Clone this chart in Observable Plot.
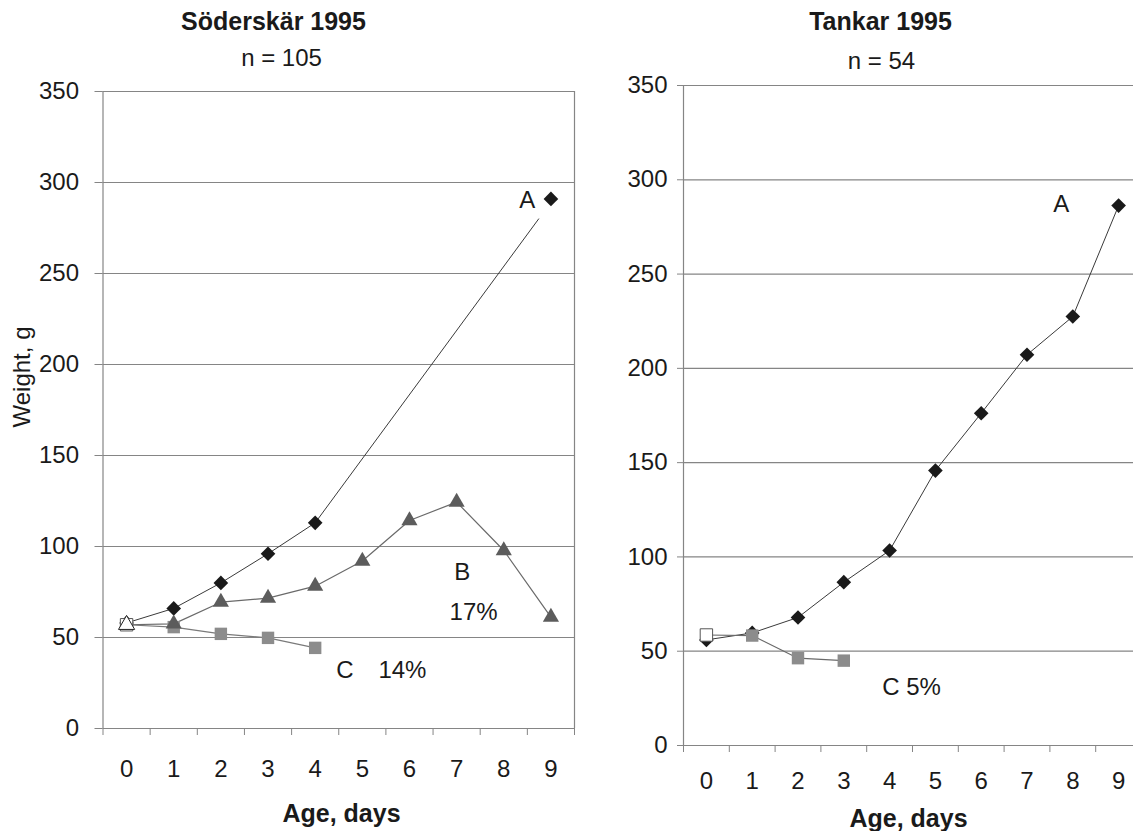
<!DOCTYPE html>
<html><head><meta charset="utf-8">
<script src="https://cdn.jsdelivr.net/npm/d3@7"></script>
<script src="https://cdn.jsdelivr.net/npm/@observablehq/plot@0.6"></script>
<style>
html,body{margin:0;padding:0;background:#fff;overflow:hidden;width:1133px;height:831px;}
#wrap{position:relative;width:1133px;height:831px;overflow:hidden;background:#fff;}
#left,#right{position:absolute;top:0;}
#left{left:0;width:580px;} #right{left:580px;width:567px;}
svg{max-width:none !important;}
</style></head><body><div id="wrap"><div id="left"></div><div id="right"></div></div>
<script>
// ---- shared axis values ----
const ages = [0, 1, 2, 3, 4, 5, 6, 7, 8, 9];
const yTicks = [0, 50, 100, 150, 200, 250, 300, 350];

// ---- Söderskär 1995 (n = 105) ----
const sodTitle = "Söderskär 1995";
const sodSubtitle = "n = 105";
const sodA_ages = [0, 1, 2, 3, 4, 9];
const sodA_weights = [58, 66, 80, 96, 113, 291];
const sodA_lineAges = [0, 1, 2, 3, 4, 8.74];
const sodA_lineWeights = [58, 66, 80, 96, 113, 280];
const sodB_ages = [0, 1, 2, 3, 4, 5, 6, 7, 8, 9];
const sodB_weights = [57, 57.5, 69.4, 71.6, 78.2, 92, 114.3, 124.4, 97.8, 61.2];
const sodC_ages = [0, 1, 2, 3, 4];
const sodC_weights = [57, 55.7, 52, 49.8, 44.3];
const sodLabels = ["A", "B", "17%", "C", "14%"];
const sodLabelAges = [8.5, 7.12, 7.36, 4.63, 5.85];
const sodLabelWeights = [290, 85.7, 63.7, 31.9, 31.9];

// ---- Tankar 1995 (n = 54) ----
const tanTitle = "Tankar 1995";
const tanSubtitle = "n = 54";
const tanA_ages = [0, 1, 2, 3, 4, 5, 6, 7, 8, 9];
const tanA_weights = [56, 59.7, 67.9, 86.6, 103.4, 145.8, 176.2, 207.2, 227.5, 286.3];
const tanC_ages = [0, 1, 2, 3];
const tanC_weights = [58.6, 58.3, 46.3, 45];
const tanLabels = ["A", "C 5%"];
const tanLabelAges = [7.75, 4.48];
const tanLabelWeights = [286.9, 30.75];

const FONT = "'Liberation Sans', Arial, sans-serif";
const GRID = "#858585";
const INK = "#1a1a1a";

const rows = (xs, ys) => xs.map((x, i) => ({x, y: ys[i]}));
const bandEdges = ages.map(a => a - 0.5).concat([ages[ages.length - 1] + 0.5]);

function panel(cfg) {
  const marks = [
    Plot.ruleY(yTicks, {stroke: GRID, strokeWidth: 1.2}),
    Plot.ruleX([bandEdges[0], bandEdges[bandEdges.length - 1]], {stroke: GRID, strokeWidth: 1.2}),
    Plot.axisY(yTicks, {tickSize: cfg.yTickSize, tickPadding: cfg.yPad, fontSize: 24, stroke: GRID, fill: INK, label: null}),
    Plot.axisX(bandEdges, {tickSize: 7, tickFormat: () => "", stroke: GRID, label: null}),
    Plot.axisX(ages, {tickSize: 0, tickPadding: cfg.xPad, fontSize: 24, fill: INK, label: null}),
    ...cfg.series,
    Plot.text(cfg.labels, {x: "x", y: "y", text: "t", fontSize: 24, fill: INK}),
    Plot.text([cfg.title], {frameAnchor: "top-left", textAnchor: "middle", dx: cfg.titleDx, dy: cfg.titleDy, fontSize: 25, fontWeight: "bold", fill: INK}),
    Plot.text([cfg.subtitle], {frameAnchor: "top-left", textAnchor: "middle", dx: cfg.subDx, dy: cfg.subDy, fontSize: 24, fill: INK}),
    Plot.text(["Age, days"], {frameAnchor: "bottom-left", textAnchor: "middle", dx: cfg.xlabDx, dy: cfg.xlabDy, fontSize: 25, fontWeight: "bold", fill: INK})
  ];
  if (cfg.ylabel) marks.push(Plot.text([cfg.ylabel], {frameAnchor: "left", textAnchor: "middle", rotate: -90, dx: -81, dy: -33, fontSize: 24, fill: INK}));
  return Plot.plot({
    width: cfg.width, height: 831,
    marginLeft: cfg.ml, marginRight: cfg.mr, marginTop: cfg.mt, marginBottom: cfg.mb,
    x: {domain: [bandEdges[0], bandEdges[bandEdges.length - 1]]},
    y: {domain: [0, 350]},
    style: {fontFamily: FONT, fontSize: "24px", color: INK, background: "transparent", overflow: "visible", maxWidth: "none"},
    marks
  });
}

// ---- Söderskär series ----
const sA = rows(sodA_ages, sodA_weights);
const sAline = rows(sodA_lineAges, sodA_lineWeights);
const sB = rows(sodB_ages, sodB_weights);
const sC = rows(sodC_ages, sodC_weights);
const left = panel({
  width: 580, ml: 102.5, mr: 6, mt: 91, mb: 103,
  yTickSize: 8, yPad: 16, xPad: 31,
  title: sodTitle, subtitle: sodSubtitle, titleDx: 170.5, titleDy: -79, subDx: 178.5, subDy: -43,
  xlabDx: 238.5, xlabDy: 93, ylabel: "Weight, g",
  labels: sodLabels.map((t, i) => ({t, x: sodLabelAges[i], y: sodLabelWeights[i]})),
  series: [
    Plot.line(sAline, {x: "x", y: "y", stroke: "#3a3a3a", strokeWidth: 1}),
    Plot.line(sB, {x: "x", y: "y", stroke: "#6a6a6a", strokeWidth: 1.2}),
    Plot.line(sC, {x: "x", y: "y", stroke: "#7a7a7a", strokeWidth: 1.2}),
    Plot.dot(sA, {x: "x", y: "y", symbol: "diamond2", r: 6.6, fill: INK, stroke: "none"}),
    Plot.dot(sC.slice(1), {x: "x", y: "y", symbol: "square", r: 7, fill: "#8c8c8c", stroke: "none"}),
    Plot.dot(sC.slice(0, 1), {x: "x", y: "y", symbol: "square", r: 7, fill: "white", stroke: "#555", strokeWidth: 1}),
    Plot.dot(sB.slice(1), {x: "x", y: "y", symbol: "triangle", r: 6, fill: "#5c5c5c", stroke: "none"}),
    Plot.dot(sB.slice(0, 1), {x: "x", y: "y", symbol: "triangle", r: 6, fill: "white", stroke: "#222", strokeWidth: 1})
  ]
});
document.getElementById("left").appendChild(left);

// ---- Tankar series ----
const tA = rows(tanA_ages, tanA_weights);
const tC = rows(tanC_ages, tanC_weights);
const right = panel({
  width: 567, ml: 103, mr: 6, mt: 85, mb: 86,
  yTickSize: 6, yPad: 10, xPad: 26,
  title: tanTitle, subtitle: tanSubtitle, titleDx: 197, titleDy: -73, subDx: 198, subDy: -34,
  xlabDx: 225, xlabDy: 81, ylabel: null,
  labels: tanLabels.map((t, i) => ({t, x: tanLabelAges[i], y: tanLabelWeights[i]})),
  series: [
    Plot.line(tA, {x: "x", y: "y", stroke: "#3a3a3a", strokeWidth: 1}),
    Plot.line(tC, {x: "x", y: "y", stroke: "#6a6a6a", strokeWidth: 1.2}),
    Plot.dot(tA, {x: "x", y: "y", symbol: "diamond2", r: 6.6, fill: INK, stroke: "none"}),
    Plot.dot(tC.slice(1), {x: "x", y: "y", symbol: "square", r: 7, fill: "#8c8c8c", stroke: "none"}),
    Plot.dot(tC.slice(0, 1), {x: "x", y: "y", symbol: "square", r: 7, fill: "white", stroke: "#555", strokeWidth: 1})
  ]
});
document.getElementById("right").appendChild(right);
</script></body></html>
